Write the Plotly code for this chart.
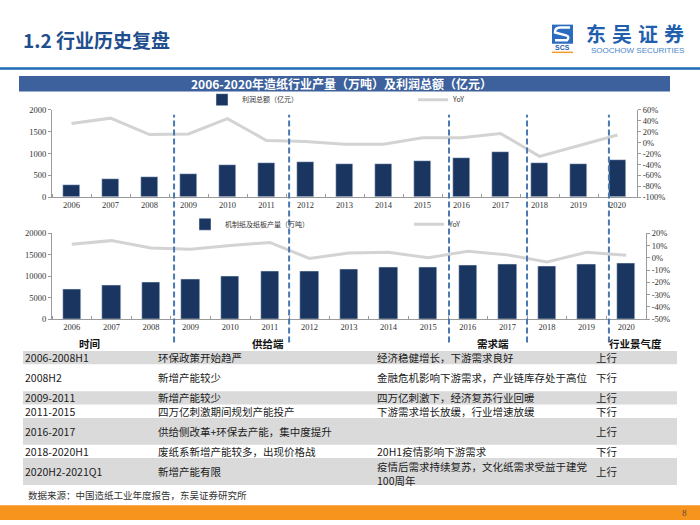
import plotly.graph_objects as go

W, H = 700, 525


def X(px):
    return px / W


def Y(py):
    return 1 - py / H


# ---------------- data ----------------
years = list(range(2006, 2021))
year_labels = [str(y) for y in years]
profit = [285, 411, 456, 532, 748, 780, 802, 771, 757, 825, 892, 1040, 793, 764, 854]
profit_yoy = [35, 45, 15, 16, 44, 4, 2, -3, -3, 9, 9, 17, -25, -5, 14]
output = [7080, 7990, 8680, 9200, 10040, 11260, 11190, 11640, 12100, 12020, 12560, 12780, 12330, 12780, 13010]
output_yoy = [11, 14, 8, 7, 10, 12.5, -0.5, 4, 4.5, 0, 5.4, 2.4, -3.4, 4.5, 2]

profit_ticks = [0, 500, 1000, 1500, 2000]
profit_yoy_ticks = [60, 40, 20, 0, -20, -40, -60, -80, -100]
output_ticks = [0, 5000, 10000, 15000, 20000]
output_yoy_ticks = [20, 10, 0, -10, -20, -30, -40, -50]

# period dividers (in year units of the charts)
dividers = [2008.63, 2011.58, 2015.68, 2017.68, 2019.78]

# table
headers = ["时间", "供给端", "需求端", "行业景气度"]
periods = ["2006-2008H1", "2008H2", "2009-2011", "2011-2015", "2016-2017", "2018-2020H1", "2020H2-2021Q1"]
supply = ["环保政策开始趋严", "新增产能较少", "新增产能较少", "四万亿刺激期间规划产能投产",
          "供给侧改革+环保去产能，集中度提升", "废纸系新增产能较多，出现价格战", "新增产能有限"]
demand = ["经济稳健增长，下游需求良好", "金融危机影响下游需求，产业链库存处于高位",
          "四万亿刺激下，经济复苏行业回暖", "下游需求增长放缓，行业增速放缓", "",
          "20H1疫情影响下游需求", "疫情后需求持续复苏，文化纸需求受益于建党<br>100周年"]
trend = ["上行", "下行", "上行", "下行", "上行", "下行", "上行"]
row_units = [1, 2, 1, 1, 2, 1, 2]

BAR = "#1a3660"
LINE = "#d3d3d3"
AX = "#9a9a9a"
SERIF = "Liberation Serif"
CJK = "Noto Sans CJK SC"
tickfont = dict(family=SERIF, size=8.5, color="#333")

fig = go.Figure()
fig.add_trace(go.Bar(x=years, y=profit, name="利润总额（亿元）", marker_color=BAR, width=0.46,
                     xaxis="x", yaxis="y", legend="legend"))
fig.add_trace(go.Scatter(x=years, y=profit_yoy, name="YoY", mode="lines",
                         line=dict(color=LINE, width=3), xaxis="x", yaxis="y2", legend="legend2"))
fig.add_trace(go.Bar(x=years, y=output, name="机制纸及纸板产量（万吨）", marker_color=BAR, width=0.46,
                     xaxis="x2", yaxis="y3", legend="legend3"))
fig.add_trace(go.Scatter(x=years, y=output_yoy, name="YoY", mode="lines",
                         line=dict(color=LINE, width=3), xaxis="x2", yaxis="y4", legend="legend4"))


def xax(domain, anchor):
    return dict(domain=domain, anchor=anchor, range=[2005.5, 2020.5], tickmode="array",
                tickvals=years, ticktext=year_labels, ticks="", showline=True, linecolor=AX,
                linewidth=1, showgrid=False, zeroline=False, tickfont=tickfont, fixedrange=True,
                minor=dict(tickmode="linear", tick0=2005.5, dtick=1, ticks="inside", ticklen=3,
                           tickcolor=AX, showgrid=False))


def yax(domain, anchor, rng, vals, texts, side="left", overlay=None):
    d = dict(domain=domain, anchor=anchor, range=rng, tickmode="array", tickvals=vals,
             ticktext=texts, ticks="outside", ticklen=3, tickcolor=AX, showline=True,
             linecolor=AX, linewidth=1, showgrid=False, zeroline=False, tickfont=tickfont,
             side=side, fixedrange=True)
    if overlay:
        d["overlaying"] = overlay
    return d


legfont = dict(family=CJK, size=7, color="#333")


def leg(x, y):
    return dict(x=X(x), y=Y(y), xanchor="left", yanchor="middle", orientation="h",
                font=legfont, bgcolor="rgba(0,0,0,0)", borderwidth=0)


fig.update_layout(
    width=W, height=H, autosize=False, margin=dict(l=0, r=0, t=0, b=0),
    paper_bgcolor="white", plot_bgcolor="rgba(0,0,0,0)", bargap=0,
    xaxis=xax([X(52), X(637)], "y"),
    yaxis=yax([Y(196), Y(107)], "x", [0, 2000], profit_ticks, [str(v) for v in profit_ticks]),
    yaxis2=yax([Y(196), Y(107)], "x", [-100, 60], profit_yoy_ticks,
               [f"{v}%" for v in profit_yoy_ticks], side="right", overlay="y"),
    xaxis2=xax([X(52), X(646)], "y3"),
    yaxis3=yax([Y(320.3), Y(232.7)], "x2", [0, 20000], output_ticks, [str(v) for v in output_ticks]),
    yaxis4=yax([Y(320.3), Y(232.7)], "x2", [-50, 20], output_yoy_ticks,
               [f"{v}%" for v in output_yoy_ticks], side="right", overlay="y3"),
    legend=leg(202, 96.5),
    legend2=leg(413, 96.5),
    legend3=leg(185, 223.5),
    legend4=leg(409, 223.5),
    showlegend=True,
)

shapes = []
ann = []

# header line
shapes.append(dict(type="rect", xref="paper", yref="paper", x0=0, x1=1, y0=Y(66), y1=Y(63.5),
                   fillcolor="#1f6bb5", line_width=0))
ann.append(dict(text="<b>1.2 行业历史复盘</b>", x=X(21), y=Y(35.5), xanchor="left", yanchor="middle",
                font=dict(family=CJK, size=19, color="#1f4e8e")))

# logo
shapes.append(dict(type="rect", xref="paper", yref="paper", x0=X(552), x1=X(573), y0=Y(39.5), y1=Y(20),
                   fillcolor="#2b6cc0", line_width=0))
shapes.append(dict(type="path", xref="paper", yref="paper",
                   path=(f"M{X(570)},{Y(23)} L{X(560)},{Y(23)} Q{X(555)},{Y(23)} {X(555)},{Y(28)} "
                         f"L{X(566)},{Y(31)} Q{X(570)},{Y(32)} {X(567)},{Y(36)} L{X(555)},{Y(36)}"),
                   line=dict(color="white", width=2.5)))
shapes.append(dict(type="rect", xref="paper", yref="paper", x0=X(552), x1=X(573), y0=Y(49), y1=Y(47.5),
                   fillcolor="#f39a2b", line_width=0))
ann.append(dict(text="<b>SCS</b>", x=X(562.5), y=Y(43.5), xanchor="center", yanchor="middle",
                borderpad=0, font=dict(family="Liberation Sans", size=7, color="#2b5fa8")))
for i, ch in enumerate("东吴证券"):
    ann.append(dict(text=f"<b>{ch}</b>", x=X(596 + 26 * i), y=Y(29.5), xanchor="center", yanchor="middle",
                    borderpad=0, font=dict(family=CJK, size=20, color="#1f5fae")))
ann.append(dict(text="SOOCHOW SECURITIES", x=X(637), y=Y(46.5), xanchor="center", yanchor="middle",
                borderpad=0, font=dict(family="Liberation Sans", size=8, color="#4a86c8")))

# chart title bar
shapes.append(dict(type="rect", xref="paper", yref="paper", x0=X(19), x1=X(670), y0=Y(88.3), y1=Y(72.3),
                   fillcolor="#3c619c", line_width=0))
ann.append(dict(text="<b>2006-2020年造纸行业产量（万吨）及利润总额（亿元）</b>", x=X(341), y=Y(80.3),
                xanchor="center", yanchor="middle", font=dict(family=CJK, size=12, color="white")))

# dividers
for d in dividers:
    shapes.append(dict(type="line", xref="x", yref="paper", x0=d, x1=d, y0=Y(344), y1=Y(112),
                       line=dict(color="#4a78b0", width=2, dash="6px,3px")))

# table
unit = 13.65
top = 352.7
hdr_x = [90, 268, 493, 635]
for h, hx in zip(headers, hdr_x):
    ann.append(dict(text=f"<b>{h}</b>", x=X(hx), y=Y(345), xanchor="center", yanchor="middle",
                    borderpad=0, font=dict(family=CJK, size=10.5, color="#111")))
col_x = [24, 157, 376, 595]
y = top
for i in range(len(periods)):
    hgt = unit * row_units[i]
    if i % 2 == 0:
        shapes.append(dict(type="rect", xref="paper", yref="paper", x0=X(23), x1=X(677),
                           y0=Y(y + hgt), y1=Y(y), fillcolor="#dadada", line_width=0, layer="below"))
    cy = y + hgt / 2
    for txt, cx in zip([periods[i], supply[i], demand[i], trend[i]], col_x):
        if txt:
            off = 2.2 if "<br>" in txt else 0
            ann.append(dict(text=txt, x=X(cx), y=Y(cy + off), xanchor="left", yanchor="middle", align="left",
                            borderpad=0, font=dict(family=CJK, size=10.5, color="#1a1a1a")))
    y += hgt

ann.append(dict(text="数据来源：中国造纸工业年度报告，东吴证券研究所", x=X(26), y=Y(500), xanchor="left",
                yanchor="middle", font=dict(family=CJK, size=9.5, color="#333")))

# footer
shapes.append(dict(type="rect", xref="paper", yref="paper", x0=0, x1=1, y0=0, y1=Y(510),
                   fillcolor="#f7941d", line_width=0))
ann.append(dict(text="8", x=X(684), y=Y(517.5), xanchor="center", yanchor="middle",
                font=dict(family=SERIF, size=9, color="#5a4a3a")))

for a in ann:
    a.setdefault("xref", "paper")
    a.setdefault("yref", "paper")
    a["showarrow"] = False
fig.update_layout(shapes=shapes, annotations=ann)

fig.write_html("out.html", config={"displayModeBar": False},
               post_script="document.body.style.margin='0';")
